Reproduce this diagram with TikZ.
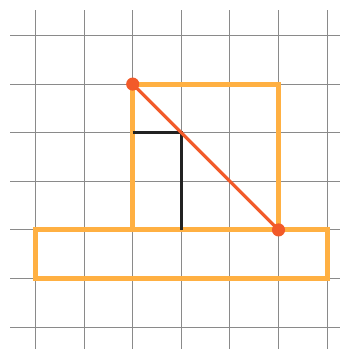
\documentclass[tikz,border=0pt]{standalone}
\usetikzlibrary{positioning}

\definecolor{gridgray}{HTML}{8A8A8A}
\definecolor{boxorange}{HTML}{FFB042}
\definecolor{diagred}{HTML}{F25A29}
\definecolor{markblack}{HTML}{222222}

\tikzset{
  gridline/.style={gridgray,line width=0.6pt},
  boxline/.style={boxorange,line width=2.9pt},
  diagline/.style={diagred,line width=1.8pt},
  markline/.style={markblack,line width=1.8pt},
  enddot/.style={circle,fill=diagred,inner sep=0pt,minimum size=0.27cm}
}

\begin{document}
\begin{tikzpicture}
\useasboundingbox (-0.73,-0.45) rectangle (6.27,6.73);

\foreach \i in {0,...,6}
  \draw[gridline] (\i,-0.45) -- (\i,6.53);
\foreach \i in {0,...,6}
  \draw[gridline] (-0.52,\i) -- (6.27,\i);

\coordinate (A) at (2,5);
\coordinate (B) at (5,2);
\coordinate (C) at (2,4);
\coordinate (D) at (3,4);
\coordinate (E) at (3,2);

\draw[boxline] (0,1) rectangle (6,2);
\draw[boxline] (2,2) rectangle (5,5);

\draw[markline] (C) -- (D) -- (E);

\draw[diagline] (A) -- (B);
\node[enddot] (Adot) at (A) {};
\node[enddot] (Bdot) at (B) {};
\end{tikzpicture}
\end{document}
